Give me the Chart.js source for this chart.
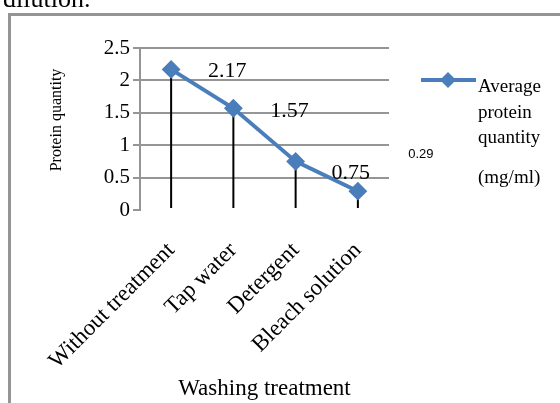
<!DOCTYPE html>
<html>
<head>
<meta charset="utf-8">
<script src="https://cdn.jsdelivr.net/npm/chart.js@4"></script>
<style>
  html, body { margin: 0; padding: 0; background: #fff; }
  #wrap { position: relative; width: 560px; height: 403px; overflow: hidden; }
</style>
</head>
<body>
<div id="wrap"><canvas id="c" width="560" height="403"></canvas></div>
<script>
// Protein quantity by washing treatment — line with drop lines.
var categories = ['Without treatment', 'Tap water', 'Detergent', 'Bleach solution'];
var proteinValues = [2.17, 1.57, 0.75, 0.29];
var valueLabels = ['2.17', '1.57', '0.75', '0.29'];
var yTickLabels = ['0', '0.5', '1', '1.5', '2', '2.5'];
var legendLines = ['Average', 'protein', 'quantity', '(mg/ml)'];

var SERIF = '"Liberation Serif", "Times New Roman", serif';
var BLUE = '#4a7ebb';
var GRID = '#959595';

var deco = {
  id: 'deco',
  beforeDraw: function (chart) {
    var c = chart.ctx;
    c.save();
    c.fillStyle = '#fff';
    c.fillRect(0, 0, chart.width, chart.height);
    // caption cut off at the top of the picture
    c.fillStyle = '#000';
    c.font = '26px ' + SERIF;
    c.textBaseline = 'alphabetic';
    c.fillText('dilution.', 3, 7);
    // frame round the chart
    c.strokeStyle = GRID;
    c.lineWidth = 3;
    c.strokeRect(9.5, 14.5, 700, 500);
    c.restore();
  },
  beforeDatasetsDraw: function (chart) {
    var c = chart.ctx;
    var meta = chart.getDatasetMeta(0);
    var bottom = chart.chartArea.bottom - 2;
    c.save();
    c.strokeStyle = '#000';
    c.lineWidth = 2;
    meta.data.forEach(function (pt) {
      c.beginPath();
      c.moveTo(pt.x, pt.y);
      c.lineTo(pt.x, bottom);
      c.stroke();
    });
    c.restore();
  },
  afterDatasetsDraw: function (chart) {
    var c = chart.ctx;
    var meta = chart.getDatasetMeta(0);
    c.save();
    c.fillStyle = '#000';
    c.textAlign = 'center';
    c.textBaseline = 'middle';
    // value labels (Excel left them offset to the right)
    var offs = [[56, 2], [56, 3], [55, 12]];
    for (var i = 0; i < 3; i++) {
      var p = meta.data[i];
      c.font = '22px ' + SERIF;
      c.fillText(valueLabels[i], p.x + offs[i][0], p.y + offs[i][1]);
    }
    var p3 = meta.data[3];
    c.font = '13px "Liberation Sans Narrow", "Liberation Sans", sans-serif';
    c.fillText(valueLabels[3], p3.x + 63, p3.y - 37);

    // y axis title
    c.save();
    c.translate(57, 120);
    c.rotate(-Math.PI / 2);
    c.font = '16px ' + SERIF;
    c.fillText('Protein quantity', 0, 0);
    c.restore();

    // legend
    c.strokeStyle = BLUE;
    c.lineWidth = 4;
    c.beginPath();
    c.moveTo(421, 80);
    c.lineTo(476, 80);
    c.stroke();
    c.fillStyle = BLUE;
    c.beginPath();
    c.moveTo(448 - 8, 80);
    c.lineTo(448, 72);
    c.lineTo(448 + 8, 80);
    c.lineTo(448, 88);
    c.closePath();
    c.fill();

    c.fillStyle = '#000';
    c.textAlign = 'left';
    c.textBaseline = 'alphabetic';
    c.font = '19px ' + SERIF;
    var ys = [92, 118, 143, 183];
    legendLines.forEach(function (t, k) {
      c.fillText(t, 478, ys[k]);
    });
    c.restore();
  }
};

new Chart(document.getElementById('c'), {
  type: 'line',
  data: {
    labels: categories,
    datasets: [{
      label: 'Average protein quantity (mg/ml)',
      data: proteinValues,
      borderColor: BLUE,
      backgroundColor: BLUE,
      borderWidth: 4,
      pointStyle: 'rectRot',
      pointRadius: 8,
      pointBorderWidth: 2,
      pointBackgroundColor: BLUE,
      pointBorderColor: BLUE,
      tension: 0
    }]
  },
  options: {
    responsive: false,
    animation: false,
    devicePixelRatio: 1,
    layout: { padding: { left: 0, top: 48, right: 171, bottom: 0 } },
    plugins: { legend: { display: false }, tooltip: { enabled: false } },
    scales: {
      x: {
        offset: true,
        grid: { display: false, drawTicks: false },
        border: { display: false },
        ticks: {
          color: '#000',
          font: { family: SERIF, size: 23 },
          minRotation: 45,
          maxRotation: 45,
          padding: 27
        },
        title: {
          display: true,
          text: 'Washing treatment',
          color: '#000',
          font: { family: SERIF, size: 23 },
          padding: { top: 0, bottom: 0 }
        },
        afterFit: function (s) { s.height = 193; }
      },
      y: {
        min: 0,
        max: 2.5,
        ticks: {
          stepSize: 0.5,
          color: '#000',
          font: { family: SERIF, size: 21 },
          padding: 3,
          callback: function (v, i) { return yTickLabels[i]; }
        },
        grid: {
          color: function (ctx) { return ctx.tick && ctx.tick.value === 0 ? 'rgba(0,0,0,0)' : GRID; },
          tickColor: GRID,
          lineWidth: 2,
          tickLength: 7
        },
        border: { display: true, color: GRID, width: 2 },
        afterFit: function (s) { s.width = 140; }
      }
    }
  },
  plugins: [deco]
});
</script>
</body>
</html>
